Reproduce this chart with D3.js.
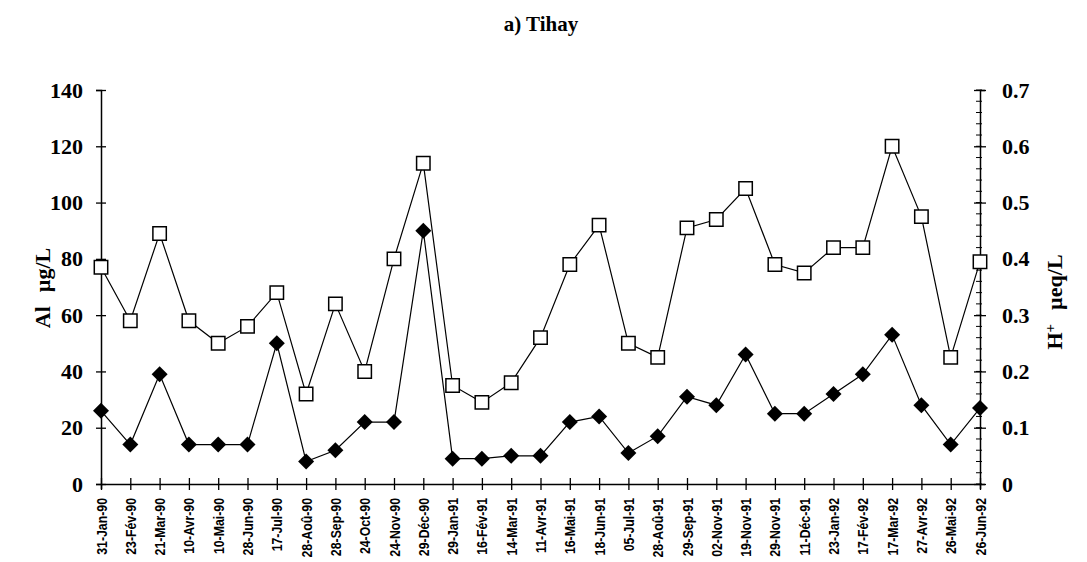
<!DOCTYPE html>
<html>
<head>
<meta charset="utf-8">
<script src="https://cdn.jsdelivr.net/npm/d3@7"></script>
<style>
  html, body { margin: 0; padding: 0; background: #fff; }
  svg { display: block; }
  .serif { font-family: "Liberation Serif", "Times New Roman", serif; font-weight: bold; }
  .sans { font-family: "Liberation Sans", Arial, sans-serif; font-weight: bold; }
</style>
</head>
<body>
<svg id="chart" width="1087" height="562"></svg>
<script>
// Sampling dates at Tihay
const categories = [
  "31-Jan-90", "23-Fév-90", "21-Mar-90", "10-Avr-90", "10-Mai-90", "28-Jun-90",
  "17-Jul-90", "28-Aoû-90", "28-Sep-90", "24-Oct-90", "24-Nov-90", "29-Déc-90",
  "29-Jan-91", "16-Fév-91", "14-Mar-91", "11-Avr-91", "16-Mai-91", "18-Jun-91",
  "05-Jul-91", "28-Aoû-91", "29-Sep-91", "02-Nov-91", "19-Nov-91", "29-Nov-91",
  "11-Déc-91", "23-Jan-92", "17-Fév-92", "17-Mar-92", "27-Avr-92", "26-Mai-92",
  "26-Jun-92"
];

// Aluminium, µg/L (open squares, left axis)
const alValues = [
  77, 58, 89, 58, 50, 56, 68, 32, 64, 40, 80, 114,
  35, 29, 36, 52, 78, 92, 50, 45, 91, 94, 105, 78,
  75, 84, 84, 120, 95, 45, 79
];

// H+, µeq/L (filled diamonds, right axis)
const hValues = [
  0.13, 0.07, 0.195, 0.07, 0.07, 0.07, 0.25, 0.04, 0.06, 0.11, 0.11, 0.45,
  0.045, 0.045, 0.05, 0.05, 0.11, 0.12, 0.055, 0.085, 0.155, 0.14, 0.23, 0.125,
  0.125, 0.16, 0.195, 0.265, 0.14, 0.07, 0.135
];

const alTicks = [0, 20, 40, 60, 80, 100, 120, 140];
const hTicks = [0, 0.1, 0.2, 0.3, 0.4, 0.5, 0.6, 0.7];
const hMinorTicks = d3.range(0, 36).map(i => +(i * 0.02).toFixed(2));

const svg = d3.select("#chart");

const plot = { left: 101, right: 980, top: 90, bottom: 484 };

const x = d3.scalePoint().domain(categories).range([plot.left, plot.right]).padding(0);
const yAl = d3.scaleLinear().domain([0, 140]).range([plot.bottom, plot.top]);
const yH = d3.scaleLinear().domain([0, 0.7]).range([plot.bottom, plot.top]);

// Title
svg.append("text")
  .attr("class", "serif")
  .attr("x", 541).attr("y", 31)
  .attr("text-anchor", "middle")
  .attr("font-size", 21)
  .text("a) Tihay");

// Left axis
const gL = svg.append("g")
  .attr("transform", `translate(${plot.left},0)`)
  .call(d3.axisLeft(yAl).tickValues(alTicks).tickSize(5).tickFormat(d3.format("d")));
gL.select(".domain").attr("stroke", "#000").attr("stroke-width", 1.5);
gL.selectAll(".tick line").attr("x1", 5).attr("x2", -5).attr("stroke", "#000").attr("stroke-width", 1.3);
gL.selectAll(".tick text")
  .attr("class", "serif")
  .attr("x", -18)
  .attr("font-size", 22)
  .attr("fill", "#000");

// Right axis: minor ticks every 0.02
const gRm = svg.append("g").attr("transform", `translate(${plot.right},0)`);
gRm.selectAll("line.minor")
  .data(hMinorTicks)
  .join("line")
  .attr("class", "minor")
  .attr("x1", -4).attr("x2", 2)
  .attr("y1", d => yH(d)).attr("y2", d => yH(d))
  .attr("stroke", "#000").attr("stroke-width", 1);

const gR = svg.append("g")
  .attr("transform", `translate(${plot.right},0)`)
  .call(d3.axisRight(yH).tickValues(hTicks).tickSize(5).tickFormat(d => d === 0 ? "0" : d3.format(".1f")(d)));
gR.select(".domain").attr("stroke", "#000").attr("stroke-width", 1.5);
gR.selectAll(".tick line").attr("x1", -6).attr("x2", 6).attr("stroke", "#000").attr("stroke-width", 1.3);
gR.selectAll(".tick text")
  .attr("class", "serif")
  .attr("x", 22)
  .attr("font-size", 22)
  .attr("fill", "#000");

// Bottom axis with condensed, vertical date labels
const gB = svg.append("g")
  .attr("transform", `translate(0,${plot.bottom})`)
  .call(d3.axisBottom(x).tickSize(5));
gB.select(".domain").attr("stroke", "#000").attr("stroke-width", 1.5);
gB.selectAll(".tick line").attr("y1", -6).attr("y2", 6).attr("stroke", "#000").attr("stroke-width", 1.3);
gB.selectAll(".tick text")
  .attr("class", "sans")
  .attr("font-size", 14)
  .attr("fill", "#000")
  .attr("text-anchor", "end")
  .attr("transform", "rotate(-90) scale(0.88,1)")
  .attr("x", -14 / 0.88)
  .attr("y", 0)
  .attr("dy", "0.36em");

// Axis titles
const alTitle = svg.append("text")
  .attr("class", "serif")
  .attr("font-size", 22)
  .attr("text-anchor", "middle")
  .attr("transform", "translate(50,288) rotate(-90)");
alTitle.append("tspan").text("Al");
alTitle.append("tspan").attr("dx", 14).text("µg/L");

const hTitle = svg.append("text")
  .attr("class", "serif")
  .attr("font-size", 22)
  .attr("text-anchor", "middle")
  .attr("transform", "translate(1062,302) rotate(-90)");
hTitle.append("tspan").text("H");
hTitle.append("tspan").attr("font-size", 15).attr("dy", -7).text("+");
hTitle.append("tspan").attr("dy", 7).attr("dx", 14).text("µeq/L");

// Lines
const lineAl = d3.line().x((d, i) => x(categories[i])).y(d => yAl(d));
const lineH = d3.line().x((d, i) => x(categories[i])).y(d => yH(d));

svg.append("path")
  .datum(hValues)
  .attr("d", lineH)
  .attr("fill", "none").attr("stroke", "#000").attr("stroke-width", 1.2);

svg.append("path")
  .datum(alValues)
  .attr("d", lineAl)
  .attr("fill", "none").attr("stroke", "#000").attr("stroke-width", 1.2);

// Diamond markers (H+)
const diamond = d3.symbol().type(d3.symbolSquare).size(128);
svg.append("g").selectAll("path")
  .data(hValues)
  .join("path")
  .attr("d", diamond)
  .attr("transform", (d, i) => `translate(${x(categories[i])},${yH(d)}) rotate(45)`)
  .attr("fill", "#000");

// Square markers (Al)
const square = d3.symbol().type(d3.symbolSquare).size(180);
svg.append("g").selectAll("path")
  .data(alValues)
  .join("path")
  .attr("d", square)
  .attr("transform", (d, i) => `translate(${x(categories[i])},${yAl(d)})`)
  .attr("fill", "#fff")
  .attr("stroke", "#000")
  .attr("stroke-width", 1.5);
</script>
</body>
</html>
